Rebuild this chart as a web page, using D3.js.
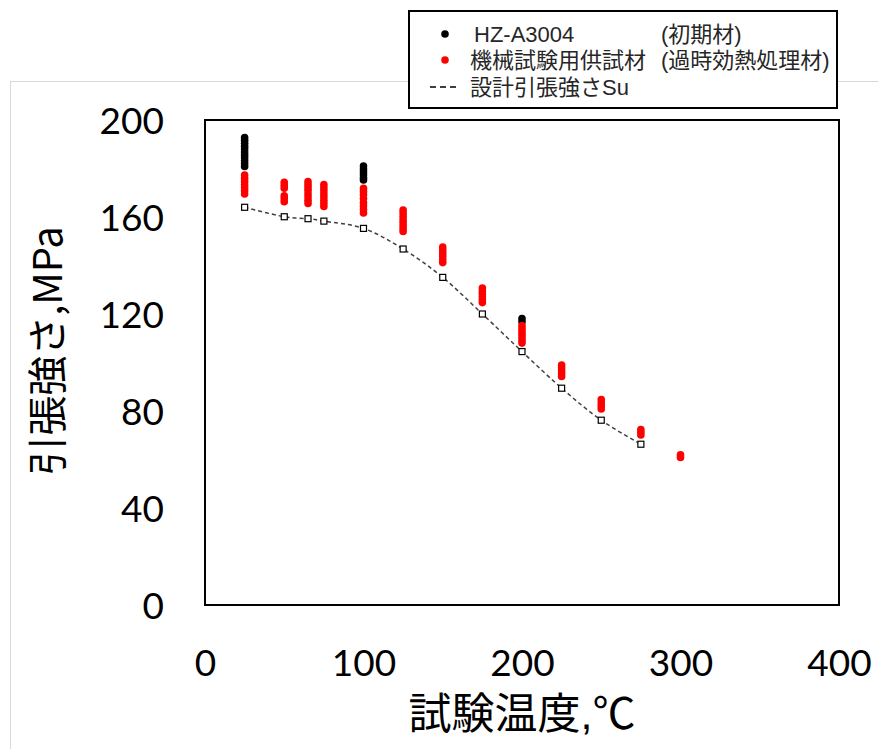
<!DOCTYPE html>
<html>
<head>
<meta charset="utf-8">
<script src="https://cdn.jsdelivr.net/npm/d3@7/dist/d3.min.js"></script>
<style>
  html, body { margin: 0; padding: 0; background: #fff; }
  svg { display: block; }
</style>
</head>
<body>
<svg id="chart" width="878" height="749"></svg>
<script>
// ---- Data ----
const xTicks = [0, 100, 200, 300, 400];
const yTicks = [0, 40, 80, 120, 160, 200];

// HZ-A3004 (初期材)
const blackTemps  = [25, 25, 25, 25, 25, 25, 25, 25, 25, 25, 25,
                     100, 100, 100, 100, 100, 100,
                     200, 200];
const blackValues = [192.8, 191.6, 190.4, 189.2, 188.0, 186.8, 185.6, 184.4, 183.2, 182.0, 180.8,
                     181.0, 179.8, 178.6, 177.4, 176.2, 175.3,
                     118.1, 116.8];

// 機械試験用供試材 (過時効熱処理材)
const redTemps  = [25, 25, 25, 25, 25, 25, 25,
                   50, 50, 50, 50, 50, 50,
                   65, 65, 65, 65, 65, 65, 65, 65,
                   75, 75, 75, 75, 75, 75, 75, 75,
                   100, 100, 100, 100, 100, 100, 100, 100,
                   125, 125, 125, 125, 125, 125, 125, 125,
                   150, 150, 150, 150, 150, 150,
                   175, 175, 175, 175, 175, 175,
                   200, 200, 200, 200, 200, 200, 200,
                   225, 225, 225, 225, 225,
                   250, 250, 250, 250,
                   275, 275, 275,
                   300, 300];
const redValues = [177.3, 176.0, 174.7, 173.4, 172.1, 170.8, 169.5,
                   174.3, 173.1, 171.9, 168.7, 167.5, 166.3,
                   174.6, 173.4, 172.2, 171.0, 169.6, 168.2, 166.9, 165.6,
                   173.4, 172.1, 170.8, 169.5, 168.2, 166.9, 165.6, 164.3,
                   171.8, 170.5, 169.2, 167.6, 165.9, 164.5, 163.1, 161.7,
                   162.9, 161.6, 160.3, 159.0, 157.7, 156.4, 155.2, 154.0,
                   147.6, 146.4, 145.1, 143.8, 142.5, 141.2,
                   130.7, 129.5, 128.3, 127.1, 125.9, 124.7,
                   115.2, 114.0, 112.8, 111.6, 110.4, 109.2, 108.0,
                   99.0, 97.8, 96.6, 95.4, 94.2,
                   84.7, 83.4, 82.1, 80.8,
                   72.4, 71.2, 70.1,
                   61.9, 60.8];

// 設計引張強さSu
const designTemps  = [25, 50, 65, 75, 100, 125, 150, 175, 200, 225, 250, 275];
const designValues = [164.0, 160.1, 159.3, 158.3, 155.3, 146.8, 135.1, 120.0, 104.5, 89.4, 76.2, 66.3];

const legendLabels = ["HZ-A3004", "機械試験用供試材", "設計引張強さSu"];
const legendNotes  = ["(初期材)", "(過時効熱処理材)", ""];

// ---- Layout ----
const svg = d3.select("#chart");
const plot = { left: 205, right: 839, top: 120, bottom: 605 };
const numFont = "Lato, 'Open Sans', 'Liberation Sans', sans-serif";
const cjkFont = "'Noto Sans CJK JP', 'Noto Sans', sans-serif";
const titleFont = "'Liberation Sans', 'Noto Sans CJK JP', sans-serif";
const legendFont = "'Liberation Sans', Arial, 'Noto Sans CJK JP', sans-serif";

const x = d3.scaleLinear().domain([0, 400]).range([plot.left, plot.right]);
const y = d3.scaleLinear().domain([0, 200]).range([plot.bottom, plot.top]);

// outer chart-area frame (light gray)
svg.append("rect")
  .attr("x", 10.5).attr("y", 81.5)
  .attr("width", 900).attr("height", 700)
  .attr("fill", "#fff").attr("stroke", "#d9d9d9").attr("stroke-width", 1);

// plot frame
svg.append("rect")
  .attr("x", plot.left).attr("y", plot.top)
  .attr("width", plot.right - plot.left).attr("height", plot.bottom - plot.top)
  .attr("fill", "#fff").attr("stroke", "#000").attr("stroke-width", 2);

// axes (labels only)
const xAxis = svg.append("g")
  .attr("transform", `translate(0,${plot.bottom})`)
  .call(d3.axisBottom(x).tickValues(xTicks).tickSize(0).tickPadding(0).tickFormat(d3.format("d")));
xAxis.select(".domain").remove();
xAxis.selectAll("text")
  .attr("y", 71).attr("dy", 0)
  .attr("font-family", numFont).attr("font-size", 37).attr("fill", "#000");

const yAxis = svg.append("g")
  .attr("transform", `translate(${plot.left},0)`)
  .call(d3.axisLeft(y).tickValues(yTicks).tickSize(0).tickPadding(0).tickFormat(d3.format("d")));
yAxis.select(".domain").remove();
yAxis.selectAll("text")
  .attr("x", -41).attr("dy", "0.36em")
  .attr("font-family", numFont).attr("font-size", 37).attr("fill", "#000");

// axis titles
svg.append("text")
  .attr("x", x(200)).attr("y", 729)
  .attr("text-anchor", "middle")
  .attr("font-family", titleFont).attr("font-size", 43).attr("fill", "#000")
  .text("試験温度,℃");

svg.append("text")
  .attr("transform", `translate(62,${351}) rotate(-90)`)
  .attr("text-anchor", "middle")
  .attr("font-family", cjkFont).attr("font-size", 40).attr("fill", "#000")
  .text("引張強さ,MPa");

// data points
const blackData = blackTemps.map((t, i) => ({ t, v: blackValues[i] }));
const redData = redTemps.map((t, i) => ({ t, v: redValues[i] }));
const designData = designTemps.map((t, i) => ({ t, v: designValues[i] }));

svg.append("g").selectAll("circle").data(blackData).join("circle")
  .attr("cx", d => x(d.t)).attr("cy", d => y(d.v)).attr("r", 3.8).attr("fill", "#000");

svg.append("g").selectAll("circle").data(redData).join("circle")
  .attr("cx", d => x(d.t)).attr("cy", d => y(d.v)).attr("r", 3.8).attr("fill", "#ff0000");

// design line
const line = d3.line().x(d => x(d.t)).y(d => y(d.v)).curve(d3.curveCatmullRom.alpha(0));
svg.append("path").datum(designData)
  .attr("d", line)
  .attr("fill", "none").attr("stroke", "#404040").attr("stroke-width", 1.5)
  .attr("stroke-dasharray", "4,3");

svg.append("g").selectAll("rect").data(designData).join("rect")
  .attr("x", d => x(d.t) - 3).attr("y", d => y(d.v) - 3)
  .attr("width", 6).attr("height", 6)
  .attr("fill", "#fff").attr("stroke", "#000").attr("stroke-width", 1.2);

// legend
const lg = svg.append("g");
lg.append("rect")
  .attr("x", 409).attr("y", 11).attr("width", 428).attr("height", 97)
  .attr("fill", "#fff").attr("stroke", "#000").attr("stroke-width", 2);

const rowsY = [34, 60, 87];
lg.append("circle").attr("cx", 445).attr("cy", rowsY[0]).attr("r", 3.8).attr("fill", "#000");
lg.append("circle").attr("cx", 445).attr("cy", rowsY[1]).attr("r", 3.8).attr("fill", "#ff0000");
lg.append("line").attr("x1", 430).attr("x2", 456).attr("y1", rowsY[2]).attr("y2", rowsY[2])
  .attr("stroke", "#000").attr("stroke-width", 1.5).attr("stroke-dasharray", "6,4");

const labelX = [474, 470, 470];
legendLabels.forEach((lab, i) => {
  lg.append("text")
    .attr("x", labelX[i]).attr("y", rowsY[i]).attr("dy", "0.36em")
    .attr("font-family", legendFont)
    .attr("font-size", 22).attr("fill", "#262626")
    .text(lab);
  if (legendNotes[i]) {
    lg.append("text")
      .attr("x", 661).attr("y", rowsY[i]).attr("dy", "0.36em")
      .attr("font-family", legendFont)
      .attr("font-size", 22).attr("fill", "#262626")
      .text(legendNotes[i]);
  }
});
</script>
</body>
</html>
